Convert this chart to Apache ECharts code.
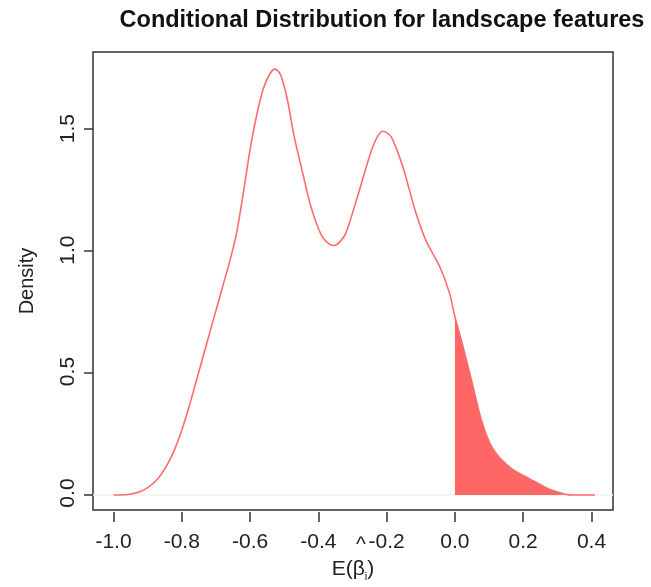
<!DOCTYPE html>
<html>
<head>
<meta charset="utf-8">
<script src="https://cdn.jsdelivr.net/npm/echarts@6/dist/echarts.min.js"></script>
<style>
  html, body { margin: 0; padding: 0; background: #fff; }
  #chart { width: 651px; height: 587px; }
</style>
</head>
<body>
<div id="chart"></div>
<script>
// density curve
const betaX = [-1.00, -0.96, -0.94, -0.92, -0.90, -0.88, -0.86, -0.84, -0.82, -0.80,
  -0.78, -0.76, -0.74, -0.72, -0.70, -0.68, -0.66, -0.64, -0.62, -0.60,
  -0.58, -0.56, -0.54, -0.527, -0.51, -0.49, -0.471, -0.446, -0.422, -0.392,
  -0.370, -0.353, -0.335, -0.319, -0.285, -0.250, -0.230, -0.211, -0.195, -0.182,
  -0.153, -0.113, -0.084, -0.045, -0.016, 0.000, 0.0235, 0.053, 0.077, 0.102,
  0.131, 0.170, 0.219, 0.268, 0.300, 0.327, 0.350, 0.410]
const density = [0.000, 0.002, 0.006, 0.015, 0.030, 0.052, 0.085, 0.130, 0.190, 0.265,
  0.355, 0.455, 0.555, 0.655, 0.755, 0.855, 0.955, 1.070, 1.235, 1.415,
  1.560, 1.670, 1.730, 1.745, 1.720, 1.615, 1.470, 1.320, 1.183, 1.067,
  1.030, 1.022, 1.040, 1.074, 1.224, 1.388, 1.460, 1.490, 1.480, 1.456,
  1.347, 1.150, 1.040, 0.937, 0.828, 0.730, 0.609, 0.445, 0.309, 0.213,
  0.152, 0.104, 0.066, 0.029, 0.012, 0.002, 0.000, 0.000]
const cutoff = 0.0
const xTicks = [-1.0, -0.8, -0.6, -0.4, -0.2, 0.0, 0.2, 0.4]
const yTicks = [0.0, 0.5, 1.0, 1.5]

const curve = betaX.map((x, i) => [x, density[i]])
const tail = curve.filter(p => p[0] >= cutoff && p[1] > 0)

// plot frame (R style, 4% padding) and a grid 10px wider on left/bottom
// so the outward tick marks fall inside the drawing area
const frameX = [-1.06, 0.463]
const frameY = [-0.0698, 1.815]
const frame = { left: 93, right: 38, top: 52, bottom: 75 }
const pad = 10
const fw = 651 - frame.left - frame.right
const fh = 587 - frame.top - frame.bottom
const xMin = frameX[0] - pad * (frameX[1] - frameX[0]) / fw
const yMin = frameY[0] - pad * (frameY[1] - frameY[0]) / fh

const chart = echarts.init(document.getElementById('chart'), null, { renderer: 'canvas' })
const font = 'Liberation Sans, Arial, sans-serif'
const tickStyle = { color: '#333', width: 1.5 }

chart.setOption({
  animation: false,
  textStyle: { fontFamily: font },
  title: {
    text: 'Conditional Distribution for landscape features',
    left: 377,
    textAlign: 'center',
    top: 4,
    textStyle: { fontSize: 23.5, fontWeight: 'bold', color: '#111', fontFamily: font }
  },
  grid: [
    { left: frame.left - pad, right: frame.right, top: frame.top, bottom: frame.bottom - pad, show: false },
    { ...frame, show: true, borderColor: '#333', borderWidth: 1.5 }
  ],
  xAxis: [
    // data axis: ticks only, sits on the frame's bottom edge
    {
      type: 'value', gridIndex: 0, min: xMin, max: frameX[1],
      splitLine: { show: false },
      axisLine: { show: false, onZero: true, onZeroAxisIndex: 1 },
      axisTick: { show: true, length: 10, customValues: xTicks, lineStyle: tickStyle },
      axisLabel: { show: false }
    },
    // helper whose zero is the frame's left edge
    { type: 'value', gridIndex: 0, min: xMin - frameX[0], max: frameX[1] - frameX[0], show: false },
    // labels and title on the frame
    {
      type: 'value', gridIndex: 1, position: 'bottom', min: frameX[0], max: frameX[1],
      name: '{n|E(β}{s|i}{n|)}',
      nameLocation: 'middle',
      nameGap: 47,
      nameTextStyle: {
        rich: {
          n: { fontSize: 21, color: '#222', fontFamily: font },
          s: { fontSize: 11, color: '#222', fontFamily: font, padding: [14, 0, 0, 0] }
        }
      },
      splitLine: { show: false },
      axisLine: { show: false, onZero: false },
      axisTick: { show: false },
      axisLabel: {
        customValues: xTicks,
        formatter: v => v.toFixed(1),
        fontSize: 21,
        color: '#222',
        margin: 22
      }
    }
  ],
  yAxis: [
    {
      type: 'value', gridIndex: 0, min: yMin, max: frameY[1],
      splitLine: { show: false },
      axisLine: { show: false, onZero: true, onZeroAxisIndex: 1 },
      axisTick: { show: true, length: 9, customValues: yTicks, lineStyle: tickStyle },
      axisLabel: { show: false }
    },
    { type: 'value', gridIndex: 0, min: yMin - frameY[0], max: frameY[1] - frameY[0], show: false },
    {
      type: 'value', gridIndex: 1, position: 'left', min: frameY[0], max: frameY[1],
      name: 'Density',
      nameLocation: 'middle',
      nameRotate: 90,
      nameGap: 56,
      nameTextStyle: { fontSize: 20, color: '#222' },
      splitLine: { show: false },
      axisLine: { show: false, onZero: false },
      axisTick: { show: false },
      axisLabel: {
        customValues: yTicks,
        formatter: v => v.toFixed(1),
        rotate: 90,
        fontSize: 21,
        color: '#222',
        margin: 14
      }
    }
  ],
  graphic: [{
    type: 'text',
    left: 356,
    top: 535,
    style: { text: '^', fontSize: 21, fill: '#222', fontFamily: font }
  }],
  series: [
    {
      name: 'tail',
      type: 'line',
      xAxisIndex: 0, yAxisIndex: 0,
      data: tail,
      symbol: 'none',
      smooth: 0.3,
      lineStyle: { width: 0 },
      areaStyle: { color: '#ff6666', opacity: 1, origin: 0 },
      z: 2
    },
    {
      name: 'density',
      type: 'line',
      xAxisIndex: 0, yAxisIndex: 0,
      data: curve,
      symbol: 'none',
      smooth: 0.3,
      lineStyle: { color: '#ff6b6b', width: 1.6 },
      z: 3,
      markLine: {
        silent: true,
        symbol: 'none',
        label: { show: false },
        lineStyle: { color: '#f0f0f0', width: 1.5, type: 'solid' },
        data: [[{ coord: [frameX[0], 0] }, { coord: [frameX[1], 0] }]],
        z: 1
      }
    }
  ]
})
</script>
</body>
</html>
